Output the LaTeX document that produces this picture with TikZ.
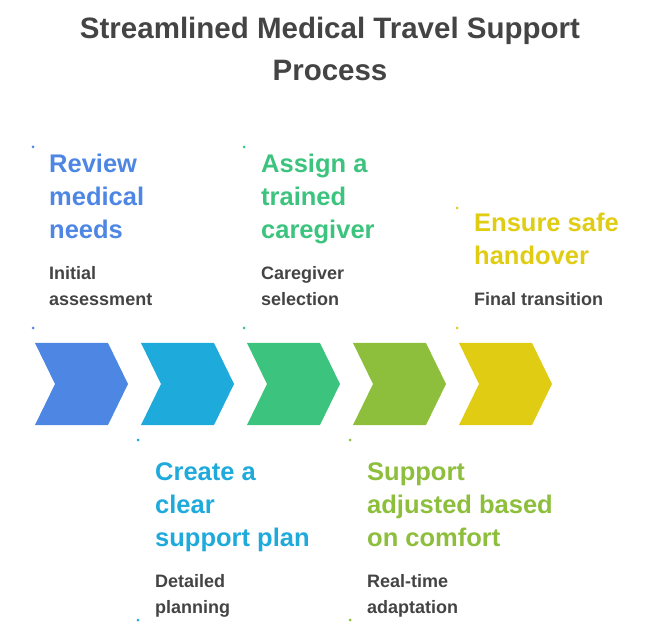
\documentclass[tikz,border=0pt]{standalone}
\usepackage{fontspec}
\setmainfont{Liberation Sans}
\usetikzlibrary{positioning}
\definecolor{stepA}{HTML}{4E86E4}
\definecolor{stepB}{HTML}{1FAADC}
\definecolor{stepC}{HTML}{3CC47E}
\definecolor{stepD}{HTML}{8DBE3C}
\definecolor{stepE}{HTML}{E0CC12}
\definecolor{ink}{HTML}{444444}
\tikzset{
	head/.style={anchor=north west,align=left,inner sep=0pt,font=\bfseries\fontsize{25.5}{33}\selectfont},
	sub/.style={anchor=north west,align=left,inner sep=0pt,text=ink,font=\bfseries\fontsize{18}{26}\selectfont},
	dot/.style={circle,inner sep=0pt,minimum size=3pt}
}
\newcommand{\chev}[3]{%
	\fill[#2] (#1,343) -- ++(73,0) -- ++(20,41) -- ++(-20,41) -- ++(-73,0) -- ++(20,-41) -- cycle;
	\coordinate (#3) at (#1,384);}
\begin{document}
\begin{tikzpicture}[x=1pt,y=-1pt]
	\useasboundingbox (0,0) rectangle (656,636);
	\node[font=\bfseries\fontsize{29.5}{42}\selectfont,text=ink,align=center] (title) at (330,49)
		{Streamlined Medical Travel Support\\Process};
	% chevrons
	\chev{35}{stepA}{c1}
	\chev{141}{stepB}{c2}
	\chev{247}{stepC}{c3}
	\chev{353}{stepD}{c4}
	\chev{459}{stepE}{c5}
	% top steps
	\node[dot,fill=stepA] (d1) at (33,147) {};
	\node[dot,fill=stepA] (e1) at (33,328) {};
	\node[head,text=stepA] (h1) at (49,154) {Review\\medical\\needs};
	\node[sub] (s1) at (49,266) {Initial\\assessment};
	\node[dot,fill=stepC] (d3) at (244,147) {};
	\node[dot,fill=stepC] (e3) at (244,328) {};
	\node[head,text=stepC] (h3) at (261,154) {Assign a\\trained\\caregiver};
	\node[sub] (s3) at (261,266) {Caregiver\\selection};
	\node[dot,fill=stepE] (d5) at (457,208) {};
	\node[dot,fill=stepE] (e5) at (457,328) {};
	\node[head,text=stepE] (h5) at (474,213) {Ensure safe\\handover};
	\node[sub] (s5) at (474,292) {Final transition};
	% bottom steps
	\node[dot,fill=stepB] (d2) at (138,440) {};
	\node[dot,fill=stepB] (e2) at (138,620) {};
	\node[head,text=stepB] (h2) at (155,462) {Create a\\clear\\support plan};
	\node[sub] (s2) at (155,574) {Detailed\\planning};
	\node[dot,fill=stepD] (d4) at (350,440) {};
	\node[dot,fill=stepD] (e4) at (350,620) {};
	\node[head,text=stepD] (h4) at (367,462) {Support\\adjusted based\\on comfort};
	\node[sub] (s4) at (367,574) {Real-time\\adaptation};
\end{tikzpicture}
\end{document}
